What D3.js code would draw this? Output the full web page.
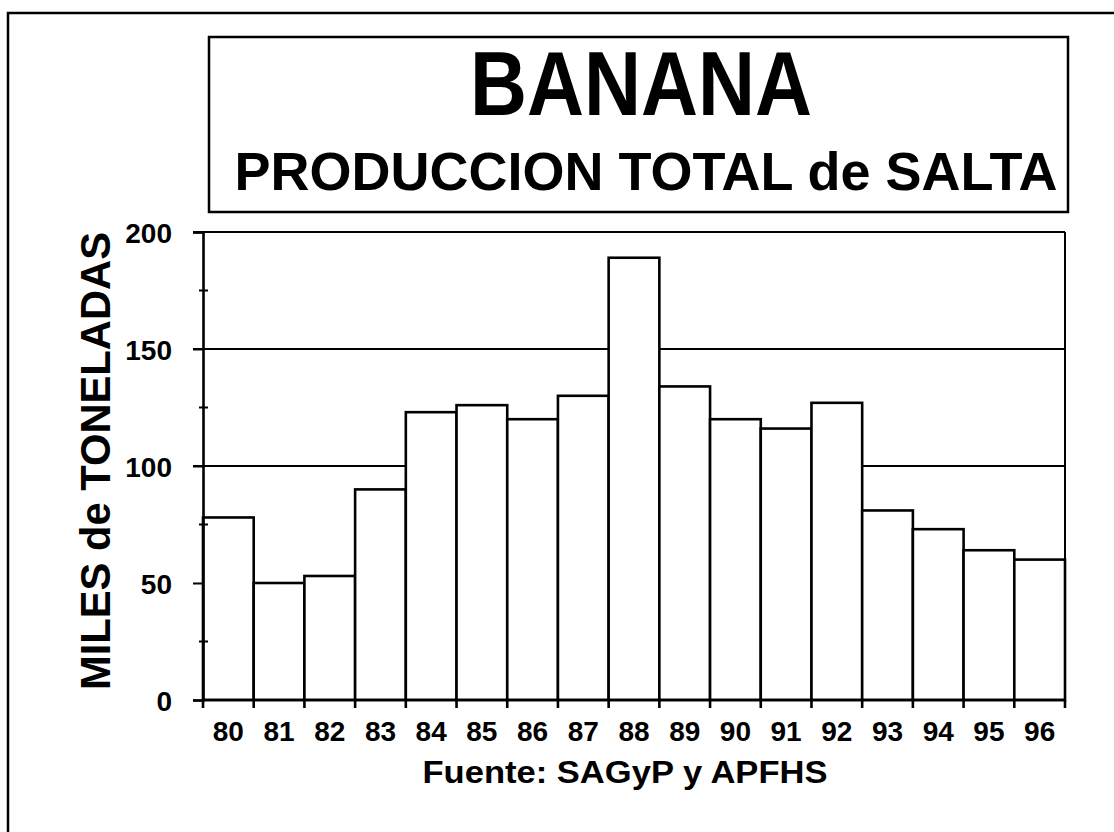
<!DOCTYPE html>
<html>
<head>
<meta charset="utf-8">
<script src="https://cdn.jsdelivr.net/npm/d3@7"></script>
<style>
  html, body { margin: 0; padding: 0; background: #fff; }
  svg { display: block; }
  text { font-family: "Liberation Sans", Arial, sans-serif; font-weight: bold; fill: #000; }
</style>
</head>
<body>
<script>
const years = ["80","81","82","83","84","85","86","87","88","89","90","91","92","93","94","95","96"];
const production = [78, 50, 53, 90, 123, 126, 120, 130, 189, 134, 120, 116, 127, 81, 73, 64, 60];
const yTicks = [0, 50, 100, 150, 200];
const yMinorTicks = [25, 75, 125, 175];
const gridValues = [100, 150, 200];
const title = "BANANA";
const subtitle = "PRODUCCION TOTAL de SALTA";
const yLabel = "MILES de TONELADAS";
const source = "Fuente: SAGyP y APFHS";

const W = 1114, H = 832;
const svg = d3.select("body").append("svg").attr("width", W).attr("height", H);

// outer frame (top and left edges visible)
svg.append("path")
  .attr("d", `M8,832 L8,13 L1114,13`)
  .attr("fill", "none").attr("stroke", "#000").attr("stroke-width", 2.5);

// title box
svg.append("rect")
  .attr("x", 209).attr("y", 37).attr("width", 859).attr("height", 175)
  .attr("fill", "none").attr("stroke", "#000").attr("stroke-width", 2.5);

svg.append("text").text(title)
  .attr("x", 641).attr("y", 115).attr("text-anchor", "middle")
  .attr("font-size", 90)
  .attr("textLength", 342).attr("lengthAdjust", "spacingAndGlyphs");

svg.append("text").text(subtitle)
  .attr("x", 646).attr("y", 190).attr("text-anchor", "middle")
  .attr("font-size", 53)
  .attr("textLength", 823).attr("lengthAdjust", "spacingAndGlyphs");

// scales
const x = d3.scaleBand().domain(years).range([203, 1065]).padding(0);
const y = d3.scaleLinear().domain([0, 200]).range([700, 232]);

// gridlines (100, 150) and top border (200)
svg.append("g").selectAll("line").data(gridValues).join("line")
  .attr("x1", 193).attr("x2", 1065)
  .attr("y1", d => y(d)).attr("y2", d => y(d))
  .attr("stroke", "#000").attr("stroke-width", 2);

// right border
svg.append("line")
  .attr("x1", 1065).attr("x2", 1065).attr("y1", y(200)).attr("y2", y(0))
  .attr("stroke", "#000").attr("stroke-width", 2);

// bars
svg.append("g").selectAll("rect").data(production).join("rect")
  .attr("x", (d, i) => x(years[i]))
  .attr("width", x.bandwidth())
  .attr("y", d => y(d))
  .attr("height", d => y(0) - y(d))
  .attr("fill", "#fff").attr("stroke", "#000").attr("stroke-width", 2.6);

// y axis
const yAxis = svg.append("g").attr("transform", "translate(203,0)")
  .call(d3.axisLeft(y).tickValues(yTicks).tickSize(10).tickPadding(21).tickFormat(d3.format("d")));
yAxis.select(".domain").attr("stroke-width", 2.6);
yAxis.selectAll(".tick line").attr("stroke-width", 2);
yAxis.selectAll(".tick text").attr("font-size", 28).attr("font-family", "Liberation Sans, Arial, sans-serif").attr("font-weight", "bold").attr("dy", "0.36em");

// minor y ticks
svg.append("g").selectAll("line").data(yMinorTicks).join("line")
  .attr("x1", 199).attr("x2", 208)
  .attr("y1", d => y(d)).attr("y2", d => y(d))
  .attr("stroke", "#000").attr("stroke-width", 2);

// x axis
const boundaries = years.map(d => x(d)).concat([x(years[years.length - 1]) + x.bandwidth()]);
svg.append("line").attr("x1", 203).attr("x2", 1065).attr("y1", 700).attr("y2", 700)
  .attr("stroke", "#000").attr("stroke-width", 2.6);
svg.append("g").selectAll("line").data(boundaries).join("line")
  .attr("x1", d => d).attr("x2", d => d).attr("y1", 700).attr("y2", 708)
  .attr("stroke", "#000").attr("stroke-width", 2.6);
svg.append("g").selectAll("text").data(years).join("text")
  .text(d => d)
  .attr("x", d => x(d) + x.bandwidth() / 2)
  .attr("y", 741)
  .attr("text-anchor", "middle")
  .attr("font-size", 28);

// source
svg.append("text").text(source)
  .attr("x", 625).attr("y", 783).attr("text-anchor", "middle")
  .attr("font-size", 32)
  .attr("textLength", 405).attr("lengthAdjust", "spacingAndGlyphs");

// y label
svg.append("text").text(yLabel)
  .attr("transform", "translate(110,461) rotate(-90)")
  .attr("text-anchor", "middle")
  .attr("font-size", 42)
  .attr("textLength", 458).attr("lengthAdjust", "spacingAndGlyphs");
</script>
</body>
</html>
